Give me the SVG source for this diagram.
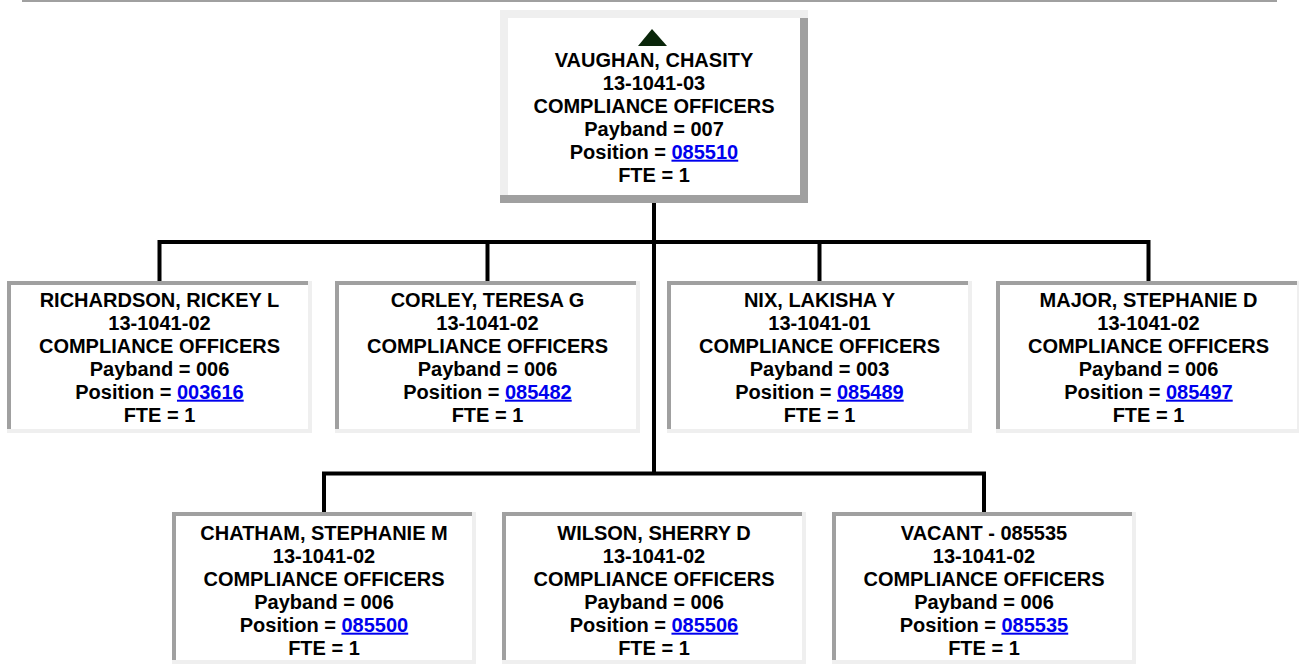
<svg xmlns="http://www.w3.org/2000/svg" width="1299" height="667" viewBox="0 0 1299 667">
<style>
.t{font-family:"Liberation Sans",Arial,sans-serif;font-weight:bold;font-size:20px;fill:#000;text-anchor:middle}
.lk{fill:#0000ee;text-decoration:underline}
.dk{fill:#a0a0a0}
.lt{fill:#efefef}
.wh{fill:#fff}
.cn{stroke:#000;stroke-width:4;fill:none;stroke-linecap:square}
</style>
<rect x="22" y="0" width="1255" height="2" fill="#a0a0a0"/>
<g id="connectors">
<path class="cn" d="M654 203V473"/>
<path class="cn" d="M159.5 281V242H1148.5V281"/>
<path class="cn" d="M487.5 242V281"/>
<path class="cn" d="M819.5 242V281"/>
<path class="cn" d="M324 512V473.5H984V512"/>
</g>
<g id="n-vaughan">
<rect class="dk" x="500" y="10" width="308" height="193"/>
<rect class="lt" x="500" y="10" width="308" height="8"/>
<rect class="lt" x="500" y="10" width="8" height="185"/>
<rect class="wh" x="508" y="18" width="292" height="177"/>
<polygon points="652,29 638,46 667,46" fill="#0a260a"/>
<text class="t" x="654" y="66.7">VAUGHAN, CHASITY</text>
<text class="t" x="654" y="89.7">13-1041-03</text>
<text class="t" x="654" y="112.7">COMPLIANCE OFFICERS</text>
<text class="t" x="654" y="135.7">Payband = 007</text>
<text class="t" x="654" y="158.7">Position = <tspan class="lk">085510</tspan></text>
<text class="t" x="654" y="181.7">FTE = 1</text>
</g>
<g id="n-richardson">
<rect class="lt" x="7" y="281" width="305" height="152"/>
<rect class="dk" x="7" y="281" width="301" height="4"/>
<rect class="dk" x="7" y="281" width="4" height="148"/>
<rect class="wh" x="11" y="285" width="297" height="144"/>
<text class="t" x="159.5" y="306.7">RICHARDSON, RICKEY L</text>
<text class="t" x="159.5" y="329.7">13-1041-02</text>
<text class="t" x="159.5" y="352.7">COMPLIANCE OFFICERS</text>
<text class="t" x="159.5" y="375.7">Payband = 006</text>
<text class="t" x="159.5" y="398.7">Position = <tspan class="lk">003616</tspan></text>
<text class="t" x="159.5" y="421.7">FTE = 1</text>
</g>
<g id="n-corley">
<rect class="lt" x="335" y="281" width="305" height="152"/>
<rect class="dk" x="335" y="281" width="301" height="4"/>
<rect class="dk" x="335" y="281" width="4" height="148"/>
<rect class="wh" x="339" y="285" width="297" height="144"/>
<text class="t" x="487.5" y="306.7">CORLEY, TERESA G</text>
<text class="t" x="487.5" y="329.7">13-1041-02</text>
<text class="t" x="487.5" y="352.7">COMPLIANCE OFFICERS</text>
<text class="t" x="487.5" y="375.7">Payband = 006</text>
<text class="t" x="487.5" y="398.7">Position = <tspan class="lk">085482</tspan></text>
<text class="t" x="487.5" y="421.7">FTE = 1</text>
</g>
<g id="n-nix">
<rect class="lt" x="667" y="281" width="305" height="152"/>
<rect class="dk" x="667" y="281" width="301" height="4"/>
<rect class="dk" x="667" y="281" width="4" height="148"/>
<rect class="wh" x="671" y="285" width="297" height="144"/>
<text class="t" x="819.5" y="306.7">NIX, LAKISHA Y</text>
<text class="t" x="819.5" y="329.7">13-1041-01</text>
<text class="t" x="819.5" y="352.7">COMPLIANCE OFFICERS</text>
<text class="t" x="819.5" y="375.7">Payband = 003</text>
<text class="t" x="819.5" y="398.7">Position = <tspan class="lk">085489</tspan></text>
<text class="t" x="819.5" y="421.7">FTE = 1</text>
</g>
<g id="n-major">
<rect class="lt" x="996" y="281" width="305" height="152"/>
<rect class="dk" x="996" y="281" width="301" height="4"/>
<rect class="dk" x="996" y="281" width="4" height="148"/>
<rect class="wh" x="1000" y="285" width="297" height="144"/>
<text class="t" x="1148.5" y="306.7">MAJOR, STEPHANIE D</text>
<text class="t" x="1148.5" y="329.7">13-1041-02</text>
<text class="t" x="1148.5" y="352.7">COMPLIANCE OFFICERS</text>
<text class="t" x="1148.5" y="375.7">Payband = 006</text>
<text class="t" x="1148.5" y="398.7">Position = <tspan class="lk">085497</tspan></text>
<text class="t" x="1148.5" y="421.7">FTE = 1</text>
</g>
<g id="n-chatham">
<rect class="lt" x="172" y="512" width="304" height="152"/>
<rect class="dk" x="172" y="512" width="300" height="4"/>
<rect class="dk" x="172" y="512" width="4" height="148"/>
<rect class="wh" x="176" y="516" width="296" height="144"/>
<text class="t" x="324" y="539.7">CHATHAM, STEPHANIE M</text>
<text class="t" x="324" y="562.7">13-1041-02</text>
<text class="t" x="324" y="585.7">COMPLIANCE OFFICERS</text>
<text class="t" x="324" y="608.7">Payband = 006</text>
<text class="t" x="324" y="631.7">Position = <tspan class="lk">085500</tspan></text>
<text class="t" x="324" y="654.7">FTE = 1</text>
</g>
<g id="n-wilson">
<rect class="lt" x="502" y="512" width="304" height="152"/>
<rect class="dk" x="502" y="512" width="300" height="4"/>
<rect class="dk" x="502" y="512" width="4" height="148"/>
<rect class="wh" x="506" y="516" width="296" height="144"/>
<text class="t" x="654" y="539.7">WILSON, SHERRY D</text>
<text class="t" x="654" y="562.7">13-1041-02</text>
<text class="t" x="654" y="585.7">COMPLIANCE OFFICERS</text>
<text class="t" x="654" y="608.7">Payband = 006</text>
<text class="t" x="654" y="631.7">Position = <tspan class="lk">085506</tspan></text>
<text class="t" x="654" y="654.7">FTE = 1</text>
</g>
<g id="n-vacant">
<rect class="lt" x="832" y="512" width="304" height="152"/>
<rect class="dk" x="832" y="512" width="300" height="4"/>
<rect class="dk" x="832" y="512" width="4" height="148"/>
<rect class="wh" x="836" y="516" width="296" height="144"/>
<text class="t" x="984" y="539.7">VACANT - 085535</text>
<text class="t" x="984" y="562.7">13-1041-02</text>
<text class="t" x="984" y="585.7">COMPLIANCE OFFICERS</text>
<text class="t" x="984" y="608.7">Payband = 006</text>
<text class="t" x="984" y="631.7">Position = <tspan class="lk">085535</tspan></text>
<text class="t" x="984" y="654.7">FTE = 1</text>
</g>
</svg>
